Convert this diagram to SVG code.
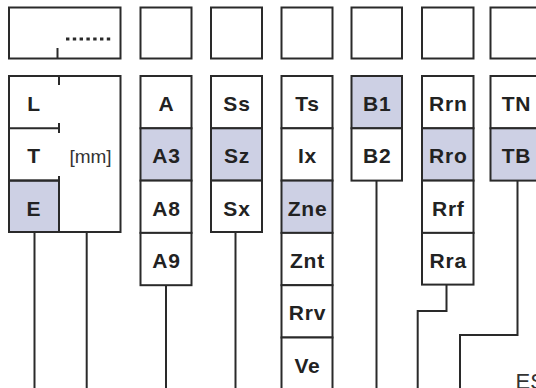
<svg xmlns="http://www.w3.org/2000/svg" width="536" height="388" viewBox="0 0 536 388">
<style>
.box{fill:#fff;stroke:#2a2a2a;stroke-width:2}
.sh{fill:#cdd0e4;stroke:#2a2a2a;stroke-width:2}
.ln{fill:none;stroke:#2a2a2a;stroke-width:2}
.lb{font-family:"Liberation Sans",Arial,sans-serif;font-weight:bold;font-size:21px;fill:#222;text-anchor:middle;letter-spacing:0.8px}
.rg{font-family:"Liberation Sans",Arial,sans-serif;font-size:19px;fill:#333;text-anchor:middle}
</style>
<rect width="536" height="388" fill="#fff"/>
<g id="connectors">
<path class="ln" d="M34.5 232V388"/>
<path class="ln" d="M86.7 232V388"/>
<path class="ln" d="M166 285V388"/>
<path class="ln" d="M235.5 232V388"/>
<path class="ln" d="M376.5 180.6V388"/>
<path class="ln" d="M446.5 285V311H417.7V388"/>
<path class="ln" d="M517.5 180.6V335H460V388"/>
</g>
<g id="top-main"><rect class="box" x="9" y="7.5" width="111.5" height="51"/><path class="ln" d="M57.5 48V58.5"/><line x1="66" y1="39" x2="111" y2="39" stroke="#2a2a2a" stroke-width="3.2" stroke-dasharray="3.4 3.4"/></g>
<g id="top-A"><rect class="box" x="140.5" y="7.5" width="51" height="51"/></g>
<g id="top-S"><rect class="box" x="211" y="7.5" width="51" height="51"/></g>
<g id="top-T"><rect class="box" x="281.5" y="7.5" width="51" height="51"/></g>
<g id="top-B"><rect class="box" x="351.5" y="7.5" width="50.5" height="51"/></g>
<g id="top-R"><rect class="box" x="422" y="7.5" width="51.5" height="51"/></g>
<g id="top-TN"><rect class="box" x="490.5" y="7.5" width="51" height="51"/></g>
<g id="main">
<rect class="box" x="9" y="76" width="111.5" height="156"/>
<rect class="sh" x="9" y="180.6" width="50" height="51.4"/>
<path class="ln" d="M59 76V85M9 128.3H59M59 123V133M9 180.6H59M59 176V185M59 223V232"/>
<text class="lb" x="34" y="111">L</text>
<text class="lb" x="34" y="163.3">T</text>
<text class="lb" x="34" y="215.6">E</text>
<text class="rg" x="90.5" y="163">[mm]</text>
</g>
<g id="col-A">
<rect class="box" x="140.5" y="76" width="51" height="52.3"/><text class="lb" x="166.5" y="111">A</text>
<rect class="sh" x="140.5" y="128.3" width="51" height="52.3"/><text class="lb" x="166.5" y="163.3">A3</text>
<rect class="box" x="140.5" y="180.6" width="51" height="52.3"/><text class="lb" x="166.5" y="215.6">A8</text>
<rect class="box" x="140.5" y="232.9" width="51" height="52.3"/><text class="lb" x="166.5" y="267.9">A9</text>
</g>
<g id="col-S">
<rect class="box" x="211" y="76" width="51" height="52.3"/><text class="lb" x="237" y="111">Ss</text>
<rect class="sh" x="211" y="128.3" width="51" height="52.3"/><text class="lb" x="237" y="163.3">Sz</text>
<rect class="box" x="211" y="180.6" width="51" height="51.4"/><text class="lb" x="237" y="215.6">Sx</text>
</g>
<g id="col-T">
<rect class="box" x="281.5" y="76" width="51" height="52.3"/><text class="lb" x="307.5" y="111">Ts</text>
<rect class="box" x="281.5" y="128.3" width="51" height="52.3"/><text class="lb" x="307.5" y="163.3">Ix</text>
<rect class="sh" x="281.5" y="180.6" width="51" height="52.3"/><text class="lb" x="307.5" y="215.6">Zne</text>
<rect class="box" x="281.5" y="232.9" width="51" height="52.3"/><text class="lb" x="307.5" y="267.9">Znt</text>
<rect class="box" x="281.5" y="285.2" width="51" height="52.3"/><text class="lb" x="307.5" y="320.2">Rrv</text>
<rect class="box" x="281.5" y="337.5" width="51" height="60"/><text class="lb" x="307.5" y="372.5">Ve</text>
</g>
<g id="col-B">
<rect class="sh" x="351.5" y="76" width="50.5" height="52.3"/><text class="lb" x="377.3" y="111">B1</text>
<rect class="box" x="351.5" y="128.3" width="50.5" height="52.3"/><text class="lb" x="377.3" y="163.3">B2</text>
</g>
<g id="col-R">
<rect class="box" x="422" y="76" width="51.5" height="52.3"/><text class="lb" x="448.3" y="111">Rrn</text>
<rect class="sh" x="422" y="128.3" width="51.5" height="52.3"/><text class="lb" x="448.3" y="163.3">Rro</text>
<rect class="box" x="422" y="180.6" width="51.5" height="52.3"/><text class="lb" x="448.3" y="215.6">Rrf</text>
<rect class="box" x="422" y="232.9" width="51.5" height="51.7"/><text class="lb" x="448.3" y="267.9">Rra</text>
</g>
<g id="col-TN">
<rect class="box" x="490.5" y="76" width="51" height="52.3"/><text class="lb" x="516.5" y="111">TN</text>
<rect class="sh" x="490.5" y="128.3" width="51" height="52.3"/><text class="lb" x="516.5" y="163.3">TB</text>
</g>
<text x="515.5" y="389" font-family="Liberation Sans,Arial,sans-serif" font-size="22" fill="#333">ES</text>
</svg>
